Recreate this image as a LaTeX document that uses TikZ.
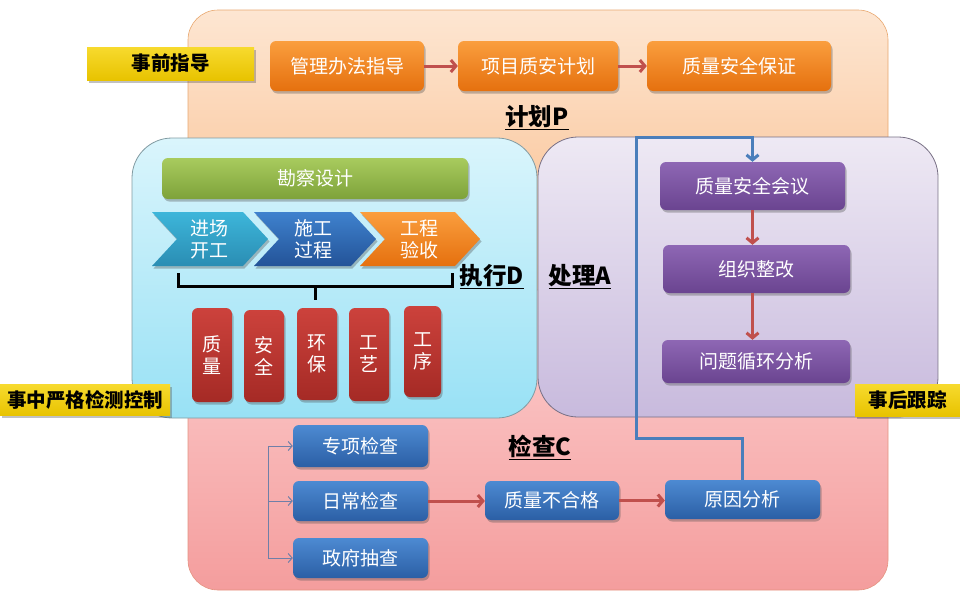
\documentclass[tikz,border=0pt]{standalone}
\usepackage{fontspec}
\setmainfont{Noto Sans CJK SC}
\usetikzlibrary{shadows,arrows.meta}
\definecolor{bgOrT}{HTML}{FDE6D2}
\definecolor{bgOrB}{HTML}{F9B985}
\definecolor{bgPkT}{HTML}{FDD0D0}
\definecolor{bgPkB}{HTML}{F49D9D}
\definecolor{cyT}{HTML}{DAF5FC}
\definecolor{cyB}{HTML}{98E1F5}
\definecolor{puT}{HTML}{EEE9F4}
\definecolor{puB}{HTML}{C8BADD}
\definecolor{orT}{HTML}{FA9E3E}
\definecolor{orB}{HTML}{E5700E}
\definecolor{grT}{HTML}{A8CB5E}
\definecolor{grB}{HTML}{7EA23A}
\definecolor{rdT}{HTML}{CC423C}
\definecolor{rdB}{HTML}{A52A25}
\definecolor{ppT}{HTML}{8E67B4}
\definecolor{ppB}{HTML}{6A4490}
\definecolor{blT}{HTML}{4D8AD2}
\definecolor{blB}{HTML}{2B5FA5}
\definecolor{chC}{HTML}{3DB6DA}
\definecolor{chCb}{HTML}{2A8DB3}
\definecolor{chB}{HTML}{3F82CE}
\definecolor{chBb}{HTML}{235398}
\definecolor{yeT}{HTML}{F7DA2E}
\definecolor{yeB}{HTML}{E8C300}
\definecolor{arRed}{HTML}{C0504D}
\definecolor{lnBlue}{HTML}{4A7EBB}
\definecolor{brGray}{HTML}{6F7FA8}
\begin{document}
\begin{tikzpicture}[x=1pt,y=-1pt,
  txt/.style={font=\fontsize{19}{22}\selectfont},
  shad/.style={drop shadow={shadow xshift=1.5pt,shadow yshift=-2.5pt,opacity=0.35,fill=black!70}},
  rbox/.style={txt,shad,rounded corners=6pt,text=white,inner sep=0pt,align=center},
  obox/.style={rbox,top color=orT,bottom color=orB},
  rdbox/.style={rbox,top color=rdT,bottom color=rdB},
  ppbox/.style={rbox,top color=ppT,bottom color=ppB},
  blbox/.style={rbox,top color=blT,bottom color=blB},
  ylab/.style={txt,shad,top color=yeT,bottom color=yeB,inner sep=0pt,font=\fontsize{19.5}{22}\selectfont\bfseries},
  phase/.style={inner sep=0pt,font=\fontsize{23.5}{26}\selectfont\bfseries},
  redarr/.style={draw=arRed,line width=3pt,-{Straight Barb[length=5pt,width=12pt]}},
  thinarr/.style={draw=brGray,line width=1pt,-{Straight Barb[length=4pt,width=9pt]}}]
\useasboundingbox (0,0) rectangle (960,603);
% backgrounds
\draw[draw=bgOrB!70!brown,line width=0.6pt,top color=bgOrT,bottom color=bgOrB,rounded corners=30pt] (188,10) rectangle (888,300);
\draw[draw=bgPkB!70!brown,line width=0.6pt,top color=bgPkT,bottom color=bgPkB,rounded corners=30pt] (188,290) rectangle (888,590);
\draw[draw=puB!60!black,line width=0.8pt,top color=puT,bottom color=puB,rounded corners=40pt] (538,137) rectangle (938,417);
\draw[draw=cyB!50!black!70,line width=0.8pt,top color=cyT,bottom color=cyB,rounded corners=40pt] (132,138) rectangle (537,418);
% Plan
\node[obox,minimum width=154pt,minimum height=50pt] (p1) at (347,66) {管理办法指导};
\node[obox,minimum width=160pt,minimum height=50pt] (p2) at (538,66) {项目质安计划};
\node[obox,minimum width=184pt,minimum height=50pt] (p3) at (739,66) {质量安全保证};
\draw[redarr] (p1.east) -- (p2.west);
\draw[redarr] (p2.east) -- (p3.west);
\node[phase] (lp) at (537,118) {\underline{计划P}};
% Do
\node[rbox,top color=grT,bottom color=grB,minimum width=306pt,minimum height=41pt] (g) at (315,178.5) {勘察设计};
\shade[shad,top color=chC,bottom color=chCb] (152,212) -- (243,212) -- (268,239) -- (243,266) -- (152,266) -- (177,239) -- cycle;
\shade[shad,top color=chB,bottom color=chBb] (254,212) -- (351,212) -- (376,239) -- (351,266) -- (254,266) -- (279,239) -- cycle;
\shade[shad,top color=orT,bottom color=orB] (360,212) -- (455,212) -- (480,239) -- (455,266) -- (360,266) -- (385,239) -- cycle;
\node[txt,text=white,align=center,inner sep=0pt] (s1) at (209,239) {进场\\开工};
\node[txt,text=white,align=center,inner sep=0pt] (s2) at (313,239) {施工\\过程};
\node[txt,text=white,align=center,inner sep=0pt] (s3) at (419,239) {工程\\验收};
\coordinate (bl) at (178,273);
\coordinate (br) at (452,273);
\coordinate (bm) at (315,286);
\draw[line width=3pt,line cap=butt] (bl) -- (178,286) -- (452,286) -- (br);
\draw[line width=3pt] (bm) -- (315,300);
\node[phase] (ld) at (492,277) {\underline{执行D}};
\node[rdbox,minimum width=40pt,minimum height=94pt] (r1) at (212,355) {质\\量};
\node[rdbox,minimum width=40pt,minimum height=92pt] (r2) at (264,356) {安\\全};
\node[rdbox,minimum width=40pt,minimum height=92pt] (r3) at (317,354) {环\\保};
\node[rdbox,minimum width=40pt,minimum height=93pt] (r4) at (369,354.5) {工\\艺};
\node[rdbox,minimum width=37pt,minimum height=91pt] (r5) at (422.5,351.5) {工\\序};
% Act
\node[phase] (la) at (580,277) {\underline{处理A}};
\node[ppbox,minimum width=185pt,minimum height=48pt] (h1) at (752.5,186) {质量安全会议};
\node[ppbox,minimum width=187pt,minimum height=48pt] (h2) at (756.5,269) {组织整改};
\node[ppbox,minimum width=188pt,minimum height=43pt] (h3) at (756,361.5) {问题循环分析};
\draw[redarr] (h1.south) -- (h1.south |- h2.north);
\draw[redarr] (h1.south |- h2.south) -- (h1.south |- h3.north);
% Check
\node[phase] (lc) at (540,447) {\underline{检查C}};
\node[blbox,minimum width=135pt,minimum height=42pt] (c1) at (360.5,446) {专项检查};
\node[blbox,minimum width=135pt,minimum height=40pt] (c2) at (360.5,501) {日常检查};
\node[blbox,minimum width=135pt,minimum height=40pt] (c3) at (360.5,558) {政府抽查};
\node[blbox,minimum width=134pt,minimum height=39pt] (q) at (552,500.5) {质量不合格};
\node[blbox,minimum width=155pt,minimum height=39pt] (yy) at (742.5,499.5) {原因分析};
\coordinate (bt) at (268,446);
\coordinate (bb) at (268,558);
\draw[brGray,line width=1pt] (bt) -- (bb);
\draw[thinarr] (bt) -- (c1.west);
\draw[thinarr] (c2.west -| bt) -- (c2.west);
\draw[thinarr] (bb) -- (c3.west);
\draw[redarr] (c2.east) -- (c2.east -| q.west);
\draw[redarr] (q.east) -- (q.east -| yy.west);
% feedback line
\draw[lnBlue,line width=3pt,-{Straight Barb[length=5pt,width=12pt]}] (yy.north) -- (742.5,438) -- (636,438) -- (636,137) -- (752.5,137) -- (h1.north);
% yellow labels
\node[ylab,minimum width=167pt,minimum height=33pt] (y1) at (170.5,63.5) {事前指导};
\node[ylab,minimum width=170pt,minimum height=31pt] (y2) at (85,400) {事中严格检测控制};
\node[ylab,minimum width=105pt,minimum height=32pt] (y3) at (907.5,400) {事后跟踪};
\end{tikzpicture}
\end{document}
